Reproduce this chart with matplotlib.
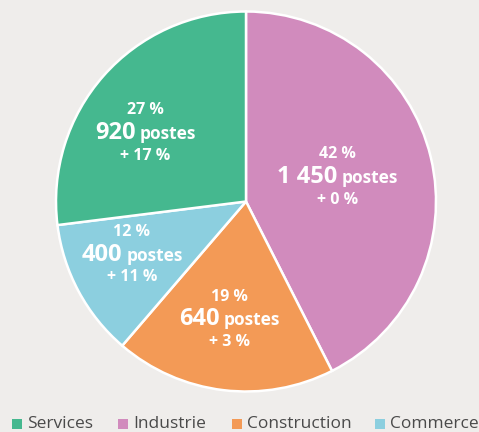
import matplotlib.pyplot as plt
from matplotlib.offsetbox import TextArea, HPacker, VPacker, AnnotationBbox
from matplotlib.patches import Rectangle

# données
secteurs = ['Industrie', 'Construction', 'Commerce', 'Services']
postes = [1450, 640, 400, 920]
parts = ['42 %', '19 %', '12 %', '27 %']
postes_txt = ['1 450', '640', '400', '920']
evolution = ['+ 0 %', '+ 3 %', '+ 11 %', '+ 17 %']
couleurs = ['#d18bbd', '#f39a56', '#8ccfdf', '#45b88f']
ordre_legende = ['Services', 'Industrie', 'Construction', 'Commerce']

# position des étiquettes (x, y) en unités du rayon
pos_labels = [(0.48, 0.13), (-0.085, -0.62), (-0.60, -0.28), (-0.53, 0.36)]
# position horizontale (px) des carrés de légende
pos_legende = [12, 118, 232, 375]

bg = '#efedeb'
fig = plt.figure(figsize=(4.79, 4.32), dpi=100, facecolor=bg)

R = 190
pad = 1.03
w = 2 * R * pad
cx, cy = 246, 432 - 201.5
ax = fig.add_axes([(cx - w / 2) / 479, (cy - w / 2) / 432, w / 479, w / 432])
ax.set_facecolor(bg)

ax.pie(postes, colors=couleurs, startangle=90, counterclock=False, radius=1,
       wedgeprops=dict(edgecolor='white', linewidth=1.8))
ax.set_xlim(-pad, pad)
ax.set_ylim(-pad, pad)
ax.set_aspect('equal')
ax.axis('off')

font = 'Open Sans'
for (x, y), p, n, e in zip(pos_labels, parts, postes_txt, evolution):
    t1 = TextArea(p, textprops=dict(color='white', fontsize=11.5, fontweight='bold', family=font))
    nb = TextArea(n, textprops=dict(color='white', fontsize=17, fontweight='bold', family=font))
    ps = TextArea('postes', textprops=dict(color='white', fontsize=12.5, fontweight='bold', family=font))
    t2 = HPacker(children=[nb, ps], align='baseline', pad=0, sep=3)
    t3 = TextArea(e, textprops=dict(color='white', fontsize=11.5, fontweight='bold', family=font))
    box = VPacker(children=[t1, t2, t3], align='center', pad=0, sep=2)
    ab = AnnotationBbox(box, (x, y), frameon=False, box_alignment=(0.5, 0.5))
    ax.add_artist(ab)

# légende
y_leg = 1 - 424 / 432
for s, x in zip(ordre_legende, pos_legende):
    c = couleurs[secteurs.index(s)]
    fig.patches.append(Rectangle((x / 479, y_leg - 5 / 432), 10 / 479, 10 / 432,
                                 transform=fig.transFigure, facecolor=c, edgecolor='none'))
    fig.text((x + 15) / 479, y_leg, s, ha='left', va='center', family=font,
             fontsize=12.5, color='#4a4a4a')

fig.savefig('out.png', dpi=100, facecolor=bg)
